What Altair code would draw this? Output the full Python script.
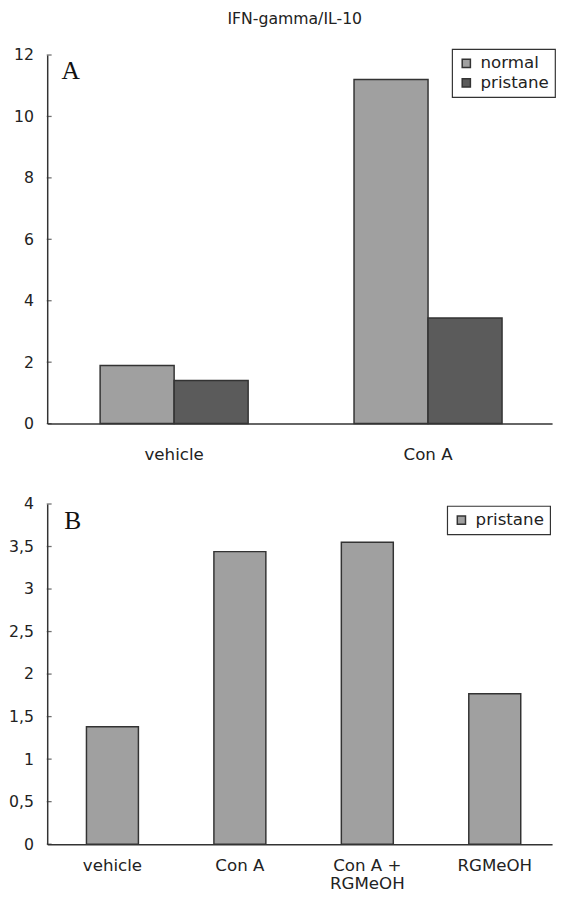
import altair as alt
import pandas as pd

title_text = "IFN-gamma/IL-10"

# Panel A
a_categories = ["vehicle", "Con A"]
a_groups = ["normal", "pristane"]
a_normal = [1.89, 11.2]
a_pristane = [1.40, 3.44]
a_yticks = [0, 2, 4, 6, 8, 10, 12]

# Panel B
b_categories = ["vehicle", "Con A", "Con A + RGMeOH", "RGMeOH"]
b_pristane = [1.38, 3.44, 3.55, 1.77]
b_yticks = [0, 0.5, 1, 1.5, 2, 2.5, 3, 3.5, 4]

light = "#a0a0a0"
dark = "#5b5b5b"
ink = "#222222"
edge = "#333333"
font = "DejaVu Sans"
serif = "Liberation Serif"

df_a = pd.DataFrame({
    "treatment": a_categories * 2,
    "group": [a_groups[0]] * len(a_categories) + [a_groups[1]] * len(a_categories),
    "value": a_normal + a_pristane,
})
df_b = pd.DataFrame({
    "treatment": b_categories,
    "series": ["pristane"] * len(b_categories),
    "value": b_pristane,
})


def legend(x, y):
    return alt.Legend(
        title=None, orient="none", legendX=x, legendY=y,
        strokeColor=edge, fillColor="white", padding=6,
        symbolType="square", symbolSize=70, symbolStrokeColor=edge,
        symbolStrokeWidth=1.5, labelFont=font, labelFontSize=17,
        labelColor=ink, labelOffset=6, rowPadding=2,
    )


def yaxis(values, fmt=None, expr=None):
    kw = dict(values=values, grid=False, ticks=False, labelFont=font,
              labelFontSize=16, labelColor=ink, labelPadding=14,
              domainColor=edge, domainWidth=1.5, title=None)
    if fmt:
        kw["format"] = fmt
    if expr:
        kw["labelExpr"] = expr
    return alt.Axis(**kw)


# ---- Panel A ----
bars_a = alt.Chart(df_a).mark_bar(stroke=edge, strokeWidth=1.5).encode(
    x=alt.X("treatment:N", sort=a_categories, title=None,
            scale=alt.Scale(paddingInner=0.417, paddingOuter=0.2027, align=0.514),
            axis=alt.Axis(labelAngle=0, labelFont=font, labelFontSize=17,
                          labelColor=ink, labelPadding=24, ticks=False,
                          domainColor=edge, domainWidth=1.5)),
    xOffset=alt.XOffset("group:N", sort=a_groups,
                        scale=alt.Scale(paddingInner=0, paddingOuter=0)),
    y=alt.Y("value:Q", title=None,
            scale=alt.Scale(domain=[0, 12], nice=False),
            axis=yaxis(a_yticks)),
    color=alt.Color("group:N", sort=a_groups,
                    scale=alt.Scale(domain=a_groups, range=[light, dark]),
                    legend=legend(413, -6)),
)
ticks_a = alt.Chart(pd.DataFrame({"v": a_yticks})).mark_tick(
    orient="horizontal", color=edge, thickness=1.3, size=5
).encode(y=alt.Y("v:Q"), x=alt.value(2))
label_a = alt.Chart(pd.DataFrame({"t": ["A"]})).mark_text(
    font=serif, fontSize=26, color="#111111"
).encode(text="t:N", x=alt.value(24), y=alt.value(16))

chart_a = alt.layer(bars_a, ticks_a, label_a).properties(
    width=515, height=376,
    title=alt.TitleParams(title_text, font=font, fontSize=16, fontWeight="normal",
                          color=ink, anchor="middle", offset=21, dx=-5),
)

# ---- Panel B ----
bars_b = alt.Chart(df_b).mark_bar(stroke=edge, strokeWidth=1.5).encode(
    x=alt.X("treatment:N", sort=b_categories, title=None,
            scale=alt.Scale(paddingInner=0.5923, paddingOuter=0.2769, align=0.556),
            axis=alt.Axis(labelAngle=0, labelFont=font, labelFontSize=17,
                          labelColor=ink, labelPadding=14, ticks=False,
                          labelLineHeight=18,
                          labelExpr="datum.label == 'Con A + RGMeOH' ? ['Con A +', 'RGMeOH'] : datum.label",
                          domainColor=edge, domainWidth=1.5)),
    y=alt.Y("value:Q", title=None,
            scale=alt.Scale(domain=[0, 4], nice=False),
            axis=yaxis(b_yticks, fmt="~g", expr="replace(datum.label, '.', ',')")),
    color=alt.Color("series:N",
                    scale=alt.Scale(domain=["pristane"], range=[light]),
                    legend=legend(408, 2)),
)
ticks_b = alt.Chart(pd.DataFrame({"v": b_yticks})).mark_tick(
    orient="horizontal", color=edge, thickness=1.3, size=5
).encode(y=alt.Y("v:Q"), x=alt.value(2))
label_b = alt.Chart(pd.DataFrame({"t": ["B"]})).mark_text(
    font=serif, fontSize=26, color="#111111"
).encode(text="t:N", x=alt.value(26), y=alt.value(18))

chart_b = alt.layer(bars_b, ticks_b, label_b).properties(width=515, height=347)

chart = alt.vconcat(chart_a, chart_b, spacing=34).resolve_scale(
    color="independent", x="independent", y="independent"
).resolve_legend(color="independent").configure_view(stroke=None).configure_legend(
    strokeWidth=1.2
).properties(
    padding={"left": 0, "top": -6, "right": 0, "bottom": 0}
)

chart.save("out.html", embed_options={"renderer": "svg", "actions": False})
